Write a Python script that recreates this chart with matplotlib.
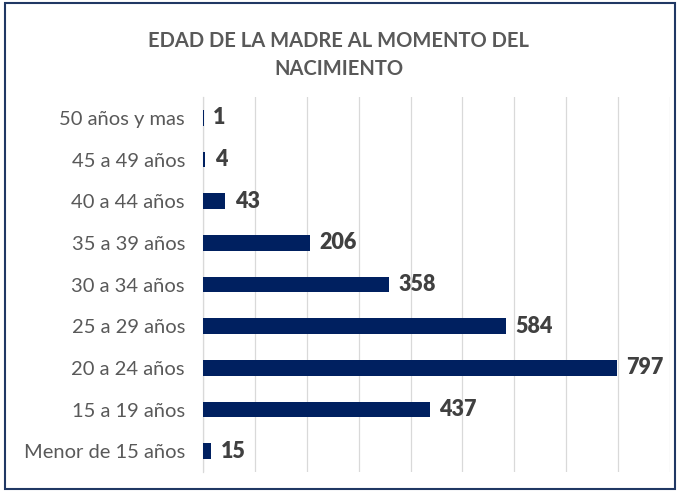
import matplotlib.pyplot as plt
from matplotlib.patches import Rectangle

# data, bottom to top as drawn
categories = ['Menor de 15 años', '15 a 19 años', '20 a 24 años', '25 a 29 años',
              '30 a 34 años', '35 a 39 años', '40 a 44 años', '45 a 49 años',
              '50 años y mas']
values = [15, 437, 797, 584, 358, 206, 43, 4, 1]
x_ticks = list(range(0, 1000, 100))

title = 'EDAD DE LA MADRE AL MOMENTO DEL\nNACIMIENTO'

bar_color = '#002060'
text_color = '#595959'
label_color = '#404040'
grid_color = '#D9D9D9'
border_color = '#203864'

plt.rcParams['font.family'] = ['Lato', 'DejaVu Sans']

fig = plt.figure(figsize=(6.78, 4.91), dpi=100)
ax = fig.add_axes([0.2994, 0.0387, 0.6888, 0.7637])

y = range(len(categories))
ax.barh(y, values, height=0.38, color=bar_color, zorder=3)

for yi, v in zip(y, values):
    ax.annotate(str(v), xy=(v, yi), xytext=(7, 0), textcoords='offset points',
                va='center', ha='left', fontsize=15.5, fontweight='heavy',
                color=label_color)

ax.set_xlim(0, 900)
ax.set_ylim(-0.5, len(categories) - 0.5)
ax.set_xticks(x_ticks)
ax.set_xticklabels([])
ax.set_yticks(list(y))
ax.set_yticklabels(categories, fontsize=14.5, color=text_color)
ax.tick_params(axis='both', length=0)
ax.tick_params(axis='y', pad=13)
ax.xaxis.grid(True, color=grid_color, linewidth=0.9, zorder=0)
for s in ['top', 'right', 'bottom']:
    ax.spines[s].set_visible(False)
ax.spines['left'].set_color(grid_color)
ax.spines['left'].set_linewidth(0.9)

fig.text(0.5, 0.888, title, ha='center', va='center', fontsize=14.5,
         fontweight='bold', color=text_color, linespacing=1.55)

fig.patches.append(Rectangle((0.007, 0.004), 0.988, 0.99, transform=fig.transFigure,
                             fill=False, edgecolor=border_color, linewidth=1.5))

fig.savefig('out.png', dpi=100)
